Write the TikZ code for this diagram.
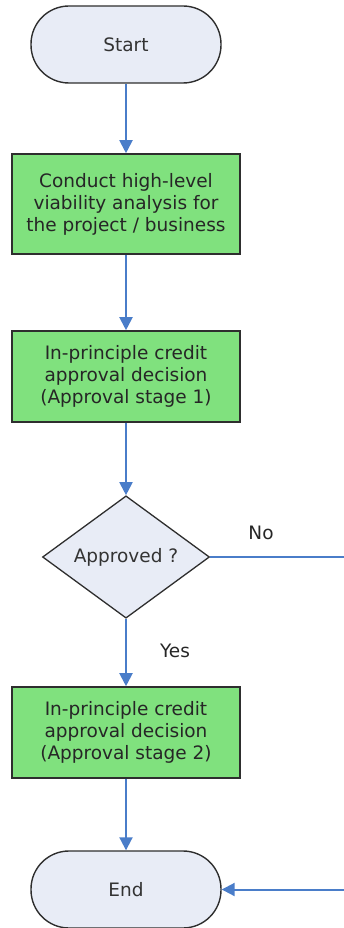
\documentclass[tikz,border=0pt]{standalone}
\usepackage{fontspec}
\setmainfont{DejaVu Sans}
\usetikzlibrary{shapes.geometric,arrows.meta}

\definecolor{stepgreen}{HTML}{80E17E}
\definecolor{termfill}{HTML}{E8ECF6}
\definecolor{flowblue}{HTML}{4A7DC9}
\definecolor{edgegray}{HTML}{2E2E2E}
\definecolor{textgray}{HTML}{333333}

\tikzset{
    terminal/.style={
        draw=edgegray,line width=1.4pt,fill=termfill,
        rectangle,rounded corners=38pt,
        minimum width=190pt,minimum height=77pt,
        text=textgray
    },
    stepbox/.style={
        draw=edgegray,line width=1.6pt,fill=stepgreen,
        rectangle,minimum width=228pt,
        align=center,text=black!85
    },
    decision/.style={
        draw=edgegray,line width=1.3pt,fill=termfill,
        diamond,inner sep=0pt,
        minimum width=167pt,minimum height=112pt,
        text=textgray
    },
    flow/.style={
        flowblue,line width=2pt,
        -{Triangle[width=13pt,length=13pt]}
    }
}

\begin{document}
\begin{tikzpicture}[x=1pt,y=1pt]
            \useasboundingbox (0,0) rectangle (344,-928);
            \fontsize{18.5}{22}\selectfont
            \node [terminal] (start) at (126,-44.5) {Start};
            \node [stepbox,minimum height=100pt] (viab) at (126,-204)
                {Conduct high-level\\viability analysis for\\the project / business};
            \node [stepbox,minimum height=91pt] (stage1) at (126,-376.5)
                {In-principle credit\\approval decision\\(Approval stage 1)};
            \node [decision] (appr) at (126,-557) {Approved ?};
            \node [stepbox,minimum height=91pt] (stage2) at (126,-732.5)
                {In-principle credit\\approval decision\\(Approval stage 2)};
            \node [terminal] (end) at (126,-889.5) {End};
            \coordinate (noout) at (345,-557);
            \coordinate (noin) at (345,-889.5);
            \draw [flow] (start) -- (viab);
            \draw [flow] (viab) -- (stage1);
            \draw [flow] (stage1) -- (appr);
            \draw [flow] (appr) -- (stage2);
            \draw [flow] (stage2) -- (end);
            \draw [flowblue,line width=2pt] (appr.east) -- (noout);
            \draw [flow] (noin) -- (end.east);
            \node [text=black!85] (nolab) at (261,-533) {No};
            \node [text=black!85] (yeslab) at (175,-651) {Yes};
        \end{tikzpicture}
\end{document}
